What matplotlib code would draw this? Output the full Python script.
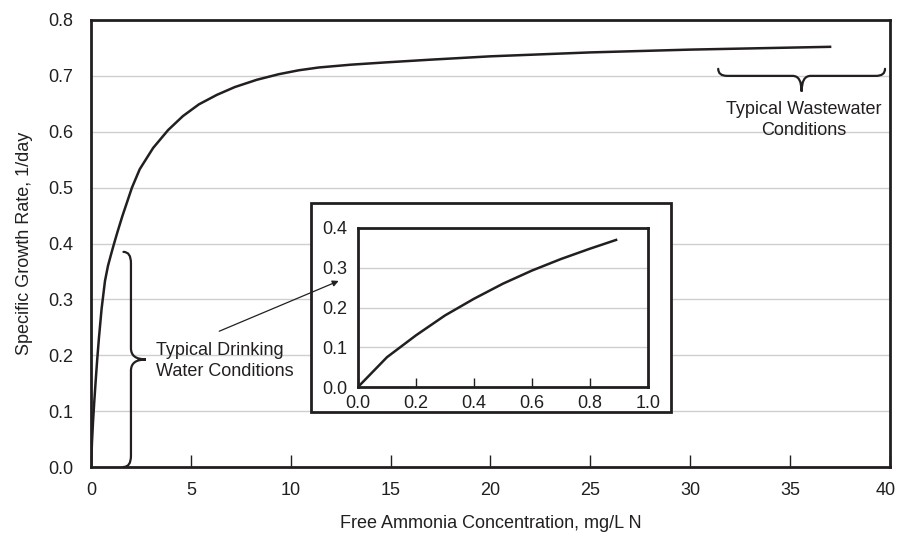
import numpy as np
import matplotlib
matplotlib.use('Agg')
import matplotlib.pyplot as plt
import matplotlib.transforms as mtransforms
from matplotlib.path import Path
from matplotlib.patches import PathPatch, Rectangle

plt.rcParams['font.family'] = ['Liberation Sans', 'DejaVu Sans']
plt.rcParams['font.size'] = 13

# main curve, free ammonia (mg/L N) vs specific growth rate (1/day)
conc = [0, 0.05, 0.1, 0.16, 0.23, 0.31, 0.4, 0.53, 0.7, 0.85, 1.0, 1.14,
        1.32, 1.57, 2.05, 2.44, 3.11, 3.86, 4.6, 5.4, 6.3, 7.2, 8.3, 9.4,
        10.4, 11.4, 13, 14.7, 17, 20, 25, 30, 37]
rate = [0, 0.045, 0.08, 0.115, 0.152, 0.192, 0.232, 0.283, 0.333, 0.36,
        0.38, 0.398, 0.42, 0.449, 0.5, 0.533, 0.571, 0.603, 0.628, 0.649,
        0.666, 0.68, 0.693, 0.703, 0.71, 0.715, 0.72, 0.724, 0.729, 0.735,
        0.742, 0.747, 0.752]

# inset, low concentration range
conc_low = [0, 0.1, 0.2, 0.3, 0.4, 0.5, 0.6, 0.7, 0.8, 0.89]
rate_low = [0, 0.075, 0.13, 0.18, 0.222, 0.26, 0.293, 0.322, 0.348, 0.37]

xticks = [0, 5, 10, 15, 20, 25, 30, 35, 40]
yticks = [0.0, 0.1, 0.2, 0.3, 0.4, 0.5, 0.6, 0.7, 0.8]
xticks_low = [0.0, 0.2, 0.4, 0.6, 0.8, 1.0]
yticks_low = [0.0, 0.1, 0.2, 0.3, 0.4]

# brace spans (data units)
drink_span = (0.0, 0.385)      # y range
waste_span = (31.4, 39.75)     # x range

ink = '#231f20'
grid = '#cfcfcf'


def vbrace(ax, x, y0, y1, depth, r):
    # "}" shape, tip points to the right
    ym = (y0 + y1) / 2
    xe = x - depth * 0.5
    verts = [(xe, y1), (x, y1), (x, y1 - r), (x, ym + r), (x, ym), (x + depth, ym),
             (x, ym), (x, ym - r), (x, y0 + r), (x, y0), (xe, y0)]
    codes = [Path.MOVETO, Path.CURVE3, Path.CURVE3, Path.LINETO, Path.CURVE3, Path.CURVE3,
             Path.CURVE3, Path.CURVE3, Path.LINETO, Path.CURVE3, Path.CURVE3]
    ax.add_patch(PathPatch(Path(verts, codes), fill=False, lw=1.6, color=ink,
                           capstyle='round', zorder=4))


def hbrace(ax, y, x0, x1, depth, r):
    # brace lying flat, tip points down
    xm = (x0 + x1) / 2
    ye = y + depth * 0.45
    verts = [(x0, ye), (x0, y), (x0 + r, y), (xm - r, y), (xm, y), (xm, y - depth),
             (xm, y), (xm + r, y), (x1 - r, y), (x1, y), (x1, ye)]
    codes = [Path.MOVETO, Path.CURVE3, Path.CURVE3, Path.LINETO, Path.CURVE3, Path.CURVE3,
             Path.CURVE3, Path.CURVE3, Path.LINETO, Path.CURVE3, Path.CURVE3]
    ax.add_patch(PathPatch(Path(verts, codes), fill=False, lw=1.6, color=ink,
                           capstyle='round', zorder=4))


fig = plt.figure(figsize=(8.98, 5.36), dpi=100)
ax = fig.add_axes([91 / 898, 69 / 536, 799 / 898, 447 / 536])

ax.plot(conc, rate, color=ink, lw=1.8, zorder=3)
ax.set_xlim(0, 40)
ax.set_ylim(0, 0.8)
ax.set_xticks(xticks)
ax.set_yticks(yticks)
ax.set_yticklabels(['%.1f' % v for v in yticks])
ax.yaxis.grid(True, color=grid, lw=1)
ax.set_axisbelow(True)
ax.tick_params(axis='x', direction='in', length=8.5, width=1, color=ink, pad=11,
               labelcolor=ink, labelsize=13)
ax.tick_params(axis='y', length=0, pad=13, labelcolor=ink, labelsize=13)
for s in ax.spines.values():
    s.set_linewidth(2)
    s.set_color(ink)
ax.set_xlabel('Free Ammonia Concentration, mg/L N', color=ink, labelpad=11)
ax.set_ylabel('Specific Growth Rate, 1/day', color=ink, labelpad=11)

# last tick label sits a little left so it stays inside the figure
last = ax.get_xticklabels()[-1]
last.set_transform(last.get_transform() +
                   mtransforms.ScaledTranslation(-4 / 100, 0, fig.dpi_scale_trans))

# braces and notes
vbrace(ax, 2.0, drink_span[0], drink_span[1], 0.75, 0.02)
ax.text(3.25, 0.19, 'Typical Drinking\nWater Conditions', ha='left', va='center',
        color=ink, fontsize=13, linespacing=1.3)
hbrace(ax, 0.700, waste_span[0], waste_span[1], 0.028, 0.45)
ax.text(35.7, 0.621, 'Typical Wastewater\nConditions', ha='center', va='center',
        color=ink, fontsize=13, linespacing=1.25)

# white frame behind inset, then the pointer on top of it
ax.add_patch(Rectangle((311 / 898, 124 / 536), 360 / 898, 209 / 536,
                       transform=fig.transFigure, facecolor='white',
                       edgecolor=ink, lw=2, zorder=5, clip_on=False))
ax.annotate('', xy=(12.4, 0.333), xytext=(6.42, 0.243),
            arrowprops=dict(arrowstyle='-|>', color=ink, lw=0.9,
                            mutation_scale=9, shrinkA=0, shrinkB=0), zorder=6)

ins = fig.add_axes([358 / 898, 149 / 536, 290 / 898, 159 / 536])
ins.set_zorder(10)
ins.plot(conc_low, rate_low, color=ink, lw=1.8, zorder=3)
ins.set_xlim(0, 1.0)
ins.set_ylim(0, 0.4)
ins.set_xticks(xticks_low)
ins.set_yticks(yticks_low)
ins.set_xticklabels(['%.1f' % v for v in xticks_low])
ins.set_yticklabels(['%.1f' % v for v in yticks_low])
ins.yaxis.grid(True, color=grid, lw=1)
ins.set_axisbelow(True)
ins.tick_params(axis='x', direction='in', length=6.5, width=1, color=ink, pad=6,
                labelcolor=ink, labelsize=13)
ins.tick_params(axis='y', length=0, pad=8, labelcolor=ink, labelsize=13)
for s in ins.spines.values():
    s.set_linewidth(2)
    s.set_color(ink)

fig.savefig('out.png', dpi=100)
